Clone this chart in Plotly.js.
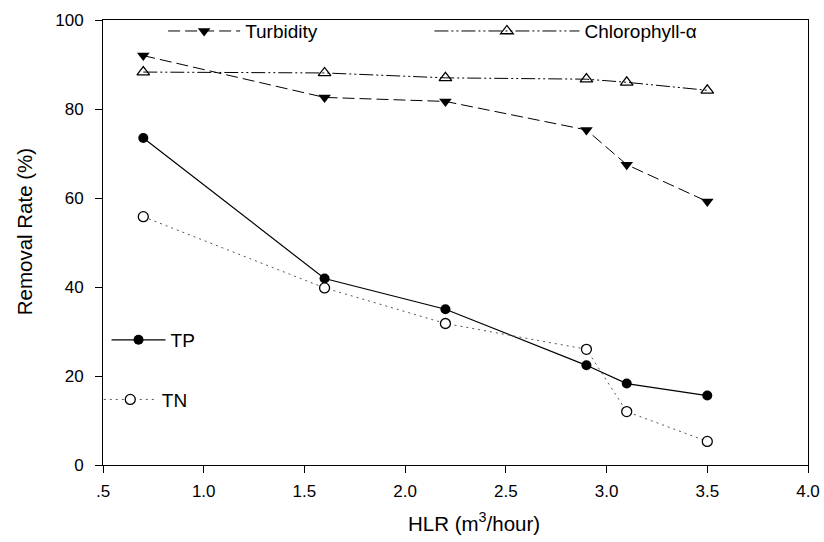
<!DOCTYPE html>
<html>
<head>
<meta charset="utf-8">
<script src="https://cdn.plot.ly/plotly-3.0.1.min.js"></script>
<style>html,body{margin:0;padding:0;background:#fff}#chart{width:824px;height:542px}</style>
</head>
<body>
<div id="chart"></div>
<script>
const hlr = [0.7, 1.6, 2.2, 2.9, 3.1, 3.5];
const turbidity = [92.0, 82.6, 81.7, 75.3, 67.5, 59.2];
const chlorophyll = [88.3, 88.1, 87.0, 86.7, 86.0, 84.2];
const tp = [73.5, 41.9, 35.0, 22.4, 18.3, 15.6];
const tn = [55.8, 39.8, 31.8, 26.0, 12.0, 5.3];
const xTickVals = [0.5, 1.0, 1.5, 2.0, 2.5, 3.0, 3.5, 4.0];
const xTickText = ['.5', '1.0', '1.5', '2.0', '2.5', '3.0', '3.5', '4.0'];
const yTickVals = [0, 20, 40, 60, 80, 100];
const xTitle = 'HLR (m<sup>3</sup>/hour)';
const yTitle = 'Removal Rate (%)';

const font = {family: 'Liberation Sans, Arial, sans-serif', size: 17, color: '#000'};
const legFont = {family: 'Liberation Sans, Arial, sans-serif', size: 19, color: '#000'};
const titleFont = {family: 'Liberation Sans, Arial, sans-serif', size: 20.5, color: '#000'};

const traces = [
  {x: hlr, y: turbidity, name: 'Turbidity', mode: 'lines+markers', legend: 'legend',
   line: {color: '#000', width: 1, dash: '12px,5px'},
   marker: {symbol: 'triangle-down', size: 11, color: '#000'}},
  {x: hlr, y: chlorophyll, name: 'Chlorophyll-α', mode: 'lines+markers', legend: 'legend2',
   line: {color: '#000', width: 1, dash: '14px,3px,2px,3px,2px,3px'},
   marker: {symbol: 'triangle-up-open', size: 11, color: '#000', line: {width: 1.3, color: '#000'}}},
  {x: hlr, y: tp, name: 'TP', mode: 'lines+markers', legend: 'legend3',
   line: {color: '#000', width: 1.2},
   marker: {symbol: 'circle', size: 10, color: '#000'}},
  {x: hlr, y: tn, name: 'TN', mode: 'lines+markers', legend: 'legend4',
   line: {color: '#555', width: 1, dash: '2px,4px'},
   marker: {symbol: 'circle', size: 10, color: '#fff', line: {width: 1.3, color: '#000'}}}
];

const leg = (x, y, w) => ({x: x, y: y, xanchor: 'left', yanchor: 'middle', xref: 'paper', yref: 'paper',
  bgcolor: 'rgba(0,0,0,0)', borderwidth: 0, font: legFont, itemwidth: w});

const layout = {
  width: 824, height: 542,
  margin: {l: 103, r: 16, t: 16, b: 77},
  paper_bgcolor: '#fff', plot_bgcolor: '#fff',
  font: font,
  showlegend: true,
  legend: leg(0.0853, 0.975, 72),
  legend2: leg(0.463, 0.975, 145),
  legend3: leg(0.005, 0.281, 54),
  legend4: leg(-0.006, 0.147, 53),
  xaxis: {range: [0.5, 4.0], tickvals: xTickVals, ticktext: xTickText,
    ticks: 'outside', ticklen: 7, tickwidth: 1, tickcolor: '#000', ticklabelstandoff: 4,
    showline: true, linecolor: '#000', linewidth: 1, mirror: true,
    showgrid: false, zeroline: false, tickfont: font},
  yaxis: {range: [0, 100], tickvals: yTickVals,
    ticks: 'outside', ticklen: 7, tickwidth: 1, tickcolor: '#000', ticklabelstandoff: 8,
    showline: true, linecolor: '#000', linewidth: 1, mirror: true,
    showgrid: false, zeroline: false, tickfont: font},
  annotations: [
    {text: xTitle, xref: 'paper', yref: 'paper', x: 0.526, y: -0.127, xanchor: 'center', yanchor: 'middle',
     showarrow: false, font: titleFont},
    {text: yTitle, xref: 'paper', yref: 'paper', x: -0.112, y: 0.523, xanchor: 'center', yanchor: 'middle',
     textangle: -90, showarrow: false, font: titleFont}
  ]
};

Plotly.newPlot('chart', traces, layout, {displayModeBar: false, staticPlot: true});
</script>
</body>
</html>
